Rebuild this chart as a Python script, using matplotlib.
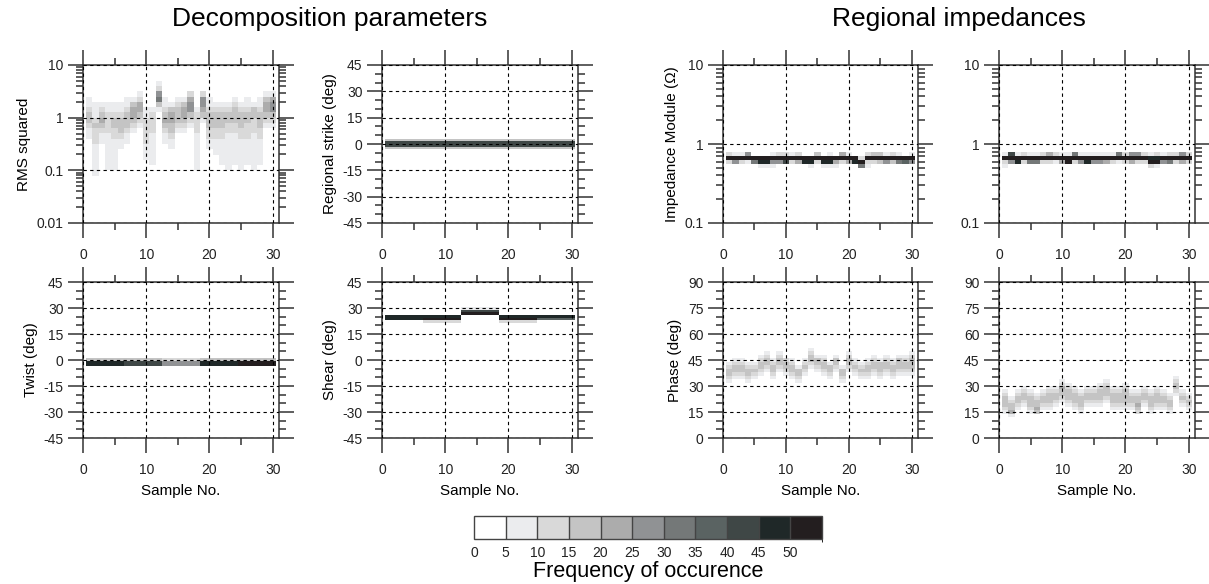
import numpy as np
import matplotlib
matplotlib.use('Agg')
import matplotlib.pyplot as plt
from matplotlib.colors import ListedColormap, BoundaryNorm
from matplotlib.cm import ScalarMappable
from matplotlib.ticker import NullFormatter

plt.rcParams['font.family'] = ['Liberation Sans', 'DejaVu Sans']

# frequency classes of the colour scale
freq_bounds = [0, 5, 10, 15, 20, 25, 30, 35, 40, 45, 50, 55]
freq_colors = ['#ffffff', '#ebecee', '#d9d9d9', '#c4c4c4', '#acacac', '#909294',
               '#747878', '#5a6362', '#3f4746', '#1f2828', '#231e1f']

samples = np.arange(1, 31)

# every string is one sample (1..30), bins from bottom to top,
# one hex digit per bin = frequency of occurence // 5

# RMS squared, log10 bins of 0.1 from -1.2 to 0.7
rms_lo, rms_step = -1.2, 0.1
rms_cols = [
    "0000000011233211000", "0111111222321110000", "0000000112343210000",
    "0011111112222110000", "0011111122332110000", "0000001123332110000",
    "0000000112333211000", "0000000001234431000", "0000000000123442100",
    "0000111222221100000", "0001111112222100000", "0000000000000136521",
    "0000000112343211000", "0000001123344310000", "0000000001233321000",
    "0000000001234431000", "0000000000123554200", "0011111112222100000",
    "0000000000013455200", "0000001122333211000", "0000011122333210000",
    "0001111122333210000", "0011111112233210000", "0001111112233321000",
    "0011111122333210000", "0001111122233211000", "0011111112223310000",
    "0001111122333211000", "0000000000123443100", "0000000000123554100",
]

# regional strike (deg), bins of 1.5 deg from -3
strike_lo, strike_step = -3.0, 1.5
strike_cols = ["3883"] * 30

# twist (deg), bins of 1.5 deg from -5
twist_lo, twist_step = -5.0, 1.5
twist_cols = ["0993"] * 6 + ["0883"] * 6 + ["0552"] * 6 + ["0993"] * 6 + ["0aa3"] * 6

# shear (deg), bins of 1.5 deg from 21.5
shear_lo, shear_step = 21.5, 1.5
shear_cols = ["099000"] * 6 + ["2a9000"] * 6 + ["000a81"] * 6 + ["2a9000"] * 6 + ["079000"] * 6

# impedance module (Ohm), log10 bins of 0.05 from -0.3
imp_lo, imp_step = -0.3, 0.05
imp1_cols = [
    "02a20", "05a10", "02a10", "01a50", "06a00", "19a00", "19a00", "15a10",
    "05a20", "08a20", "02a10", "04a20", "09a00", "19a00", "02a30", "19a00",
    "19a10", "14a00", "02a40", "04a10", "09a00", "6a200", "12a20", "02a30",
    "03a30", "05a10", "03a20", "06a10", "07a00", "05a10",
]
imp2_cols = [
    "12a10", "05a80", "09a10", "02a20", "06a10", "06a10", "02a20", "02a40",
    "01a20", "04a10", "0aa10", "02a60", "05a10", "09a10", "05a10", "05a10",
    "04a10", "02a10", "01a60", "02a20", "04a50", "02a50", "02a20", "2a910",
    "1a920", "05a10", "06a20", "02a20", "04a50", "02a20",
]

# phase (deg), bins of 2 deg
phase1_lo, phase_step = 30.0, 2.0
phase1_cols = [
    "01233210000", "00123321000", "00123321000", "01233210000", "00123210000",
    "00012332100", "00001233210", "00123321000", "00001233210", "00012332000",
    "00123321000", "01233100000", "00012321000", "00000123321", "00001233100",
    "00012332100", "00123310000", "00001233100", "01233100000", "00001233210",
    "00012321000", "00123210000", "00123321000", "00012332100", "00123331000",
    "00012332100", "00123321000", "00012333100", "00012332100", "00012333210",
]
phase2_lo = 12.0
phase2_cols = [
    "012333210000", "143321000000", "001233210000", "000123321000", "012333210000",
    "034332100000", "001233210000", "001233321000", "000123321000", "000012334210",
    "000123332100", "001233321000", "012333210000", "000123321000", "000123321000",
    "000123332100", "000012333210", "001233321000", "001233321000", "001233332100",
    "001233210000", "023433210000", "000123321000", "012333210000", "001233321000",
    "001233210000", "012332100000", "000000123321", "000123210000", "001232100000",
]

cmap = ListedColormap(freq_colors)
norm = BoundaryNorm(freq_bounds, cmap.N)
x_edges = np.append(samples - 0.5, samples[-1] + 0.5)


def to_freq(cols):
    return np.array([[int(c, 16) * 5 for c in s] for s in cols]).T


def draw_hist(ax, cols, lo, step, log=False):
    z = np.ma.masked_equal(to_freq(cols), 0)
    edges = lo + step * np.arange(z.shape[0] + 1)
    if log:
        edges = 10 ** edges
    ax.pcolormesh(x_edges, edges, z, cmap=cmap, norm=norm, shading='flat')


def style_axis(ax, ylim, major, minor, labels, log=False):
    if log:
        ax.set_yscale('log')
    ax.set_xlim(0, 31)
    ax.set_ylim(*ylim)
    ax.set_xticks([0, 10, 20, 30])
    ax.set_xticks([5, 15, 25], minor=True)
    ax.set_yticks(major)
    ax.set_yticks(minor, minor=True)
    ax.set_yticklabels(labels)
    ax.yaxis.set_minor_formatter(NullFormatter())
    ax.tick_params(which='both', direction='out', top=True, right=True,
                   color='#333333', width=1.1, labelsize=10, labelcolor='#222222')
    ax.tick_params(which='major', length=11)
    ax.tick_params(which='minor', length=5)
    ax.tick_params(axis='x', which='major', pad=7)
    ax.tick_params(axis='y', which='major', pad=3)
    ax.grid(True, which='major', linestyle=(0, (3, 3)), color='black', linewidth=0.8)
    ax.set_axisbelow(False)
    for sp in ax.spines.values():
        sp.set_linewidth(1.1)
        sp.set_color('#333333')


fig = plt.figure(figsize=(12.09, 5.84), dpi=100)

W, H = 1209.0, 584.0
col_px = [(83, 196), (382, 196), (723, 195), (999, 196)]
row_px = [(65, 158), (282, 156)]


def make_ax(r, c):
    x0, w = col_px[c]
    y0, h = row_px[r]
    return fig.add_axes([x0 / W, 1 - (y0 + h) / H, w / W, h / H])


deg45 = [-45, -30, -15, 0, 15, 30, 45]
deg45_minor = list(range(-40, 45, 5))
deg90 = [0, 15, 30, 45, 60, 75, 90]
deg90_minor = list(range(5, 90, 5))
log_minor3 = [m * 10.0 ** e for e in (-2, -1, 0) for m in range(2, 10)]
log_minor2 = [m * 10.0 ** e for e in (-1, 0) for m in range(2, 10)]

ax = make_ax(0, 0)
draw_hist(ax, rms_cols, rms_lo, rms_step, log=True)
style_axis(ax, (0.01, 10), [0.01, 0.1, 1, 10], log_minor3, ['0.01', '0.1', '1', '10'], log=True)
ax.set_ylabel('RMS squared', fontsize=11)

ax = make_ax(0, 1)
draw_hist(ax, strike_cols, strike_lo, strike_step)
style_axis(ax, (-45, 45), deg45, deg45_minor, [str(v) for v in deg45])
ax.set_ylabel('Regional strike (deg)', fontsize=11)

ax = make_ax(1, 0)
draw_hist(ax, twist_cols, twist_lo, twist_step)
style_axis(ax, (-45, 45), deg45, deg45_minor, [str(v) for v in deg45])
ax.set_ylabel('Twist (deg)', fontsize=11)
ax.set_xlabel('Sample No.', fontsize=11, labelpad=5)

ax = make_ax(1, 1)
draw_hist(ax, shear_cols, shear_lo, shear_step)
style_axis(ax, (-45, 45), deg45, deg45_minor, [str(v) for v in deg45])
ax.set_ylabel('Shear (deg)', fontsize=11)
ax.set_xlabel('Sample No.', fontsize=11, labelpad=5)

for c, cols in ((2, imp1_cols), (3, imp2_cols)):
    ax = make_ax(0, c)
    draw_hist(ax, cols, imp_lo, imp_step, log=True)
    style_axis(ax, (0.1, 10), [0.1, 1, 10], log_minor2, ['0.1', '1', '10'], log=True)
    if c == 2:
        ax.set_ylabel('Impedance Module (\u03a9)', fontsize=11)

for c, cols, lo in ((2, phase1_cols, phase1_lo), (3, phase2_cols, phase2_lo)):
    ax = make_ax(1, c)
    draw_hist(ax, cols, lo, phase_step)
    style_axis(ax, (0, 90), deg90, deg90_minor, [str(v) for v in deg90])
    ax.set_xlabel('Sample No.', fontsize=11, labelpad=5)
    if c == 2:
        ax.set_ylabel('Phase (deg)', fontsize=11)

fig.text(330 / W, 1 - 19 / H, 'Decomposition parameters', ha='center', va='center', fontsize=19)
fig.text(959 / W, 1 - 19 / H, 'Regional impedances', ha='center', va='center', fontsize=19)

cax = fig.add_axes([474 / W, 1 - 539 / H, 348 / W, 23 / H])
cb = fig.colorbar(ScalarMappable(norm=norm, cmap=cmap), cax=cax, orientation='horizontal',
                  drawedges=True, ticks=freq_bounds[:-1])
cb.outline.set_edgecolor('#444444')
cb.outline.set_linewidth(1.0)
cb.dividers.set_color('#444444')
cb.dividers.set_linewidth(1.0)
cb.ax.tick_params(length=0, pad=5, labelsize=10, labelcolor='#222222')
cb.set_label('Frequency of occurence', fontsize=15.5, labelpad=1)

fig.savefig('out.png', dpi=100)
